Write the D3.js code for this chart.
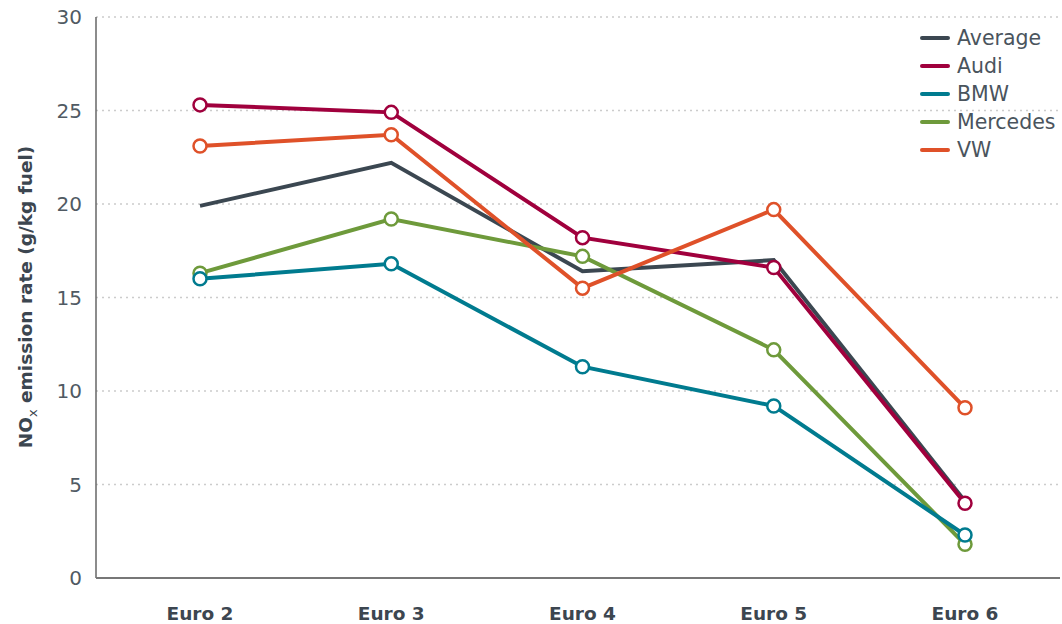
<!DOCTYPE html>
<html lang="en">
<head>
  <meta charset="UTF-8">
  <title>NOx emission rate</title>
  <script src="https://cdn.jsdelivr.net/npm/d3@7"></script>
  <style>
    body { margin: 0; background: #fff; }
    text { font-family: "DejaVu Sans", sans-serif; }
    .tick-y { fill: #505a63; font-size: 20px; }
    .tick-x { fill: #3c4650; font-size: 18.5px; font-weight: bold; }
    .legend text { fill: #4a545d; font-size: 20.5px; }
  </style>
</head>
<body>
  <div class="chart"></div>
  <script>
    // data
    const categories = ['Euro 2', 'Euro 3', 'Euro 4', 'Euro 5', 'Euro 6'];
    const average = [19.9, 22.2, 16.4, 17.0, 4.1];
    const audi = [25.3, 24.9, 18.2, 16.6, 4.0];
    const bmw = [16.0, 16.8, 11.3, 9.2, 2.3];
    const mercedes = [16.3, 19.2, 17.2, 12.2, 1.8];
    const vw = [23.1, 23.7, 15.5, 19.7, 9.1];
    const yTicks = [0, 5, 10, 15, 20, 25, 30];

    const series = [
      { name: 'Average', values: average, color: '#3b4751', markers: false },
      { name: 'Audi', values: audi, color: '#a0003d', markers: true },
      { name: 'Mercedes', values: mercedes, color: '#6e9a3b', markers: true },
      { name: 'BMW', values: bmw, color: '#007b8f', markers: true },
      { name: 'VW', values: vw, color: '#df5129', markers: true }
    ];
    const legendOrder = ['Average', 'Audi', 'BMW', 'Mercedes', 'VW'];

    const width = 1062, height = 624;
    const plotLeft = 96, plotRight = 1060, plotTop = 17, plotBottom = 578;

    const svg = d3.select('.chart')
      .append('svg')
      .attr('width', width)
      .attr('height', height);

    const x = d3.scalePoint()
      .domain(categories)
      .range([200, 965]);

    const y = d3.scaleLinear()
      .domain([0, 30])
      .range([plotBottom, plotTop]);

    // gridlines
    svg.selectAll('.grid')
      .data(yTicks.filter(d => d > 0))
      .enter()
      .append('line')
      .attr('x1', plotLeft)
      .attr('x2', plotRight)
      .attr('y1', d => y(d))
      .attr('y2', d => y(d))
      .attr('stroke', '#ccc')
      .attr('stroke-width', 1.3)
      .attr('stroke-dasharray', '2,4');

    // y tick labels
    svg.selectAll('.tick-y')
      .data(yTicks)
      .enter()
      .append('text')
      .attr('class', 'tick-y')
      .attr('x', 82)
      .attr('y', d => y(d) + 7)
      .attr('text-anchor', 'end')
      .text(d => d);

    // axes lines
    svg.append('line')
      .attr('x1', plotLeft).attr('x2', plotLeft)
      .attr('y1', plotTop).attr('y2', plotBottom)
      .attr('stroke', '#666').attr('stroke-width', 1.5);
    svg.append('line')
      .attr('x1', plotLeft).attr('x2', plotRight)
      .attr('y1', plotBottom).attr('y2', plotBottom)
      .attr('stroke', '#777').attr('stroke-width', 2);

    // x labels
    svg.selectAll('.tick-x')
      .data(categories)
      .enter()
      .append('text')
      .attr('class', 'tick-x')
      .attr('x', d => x(d))
      .attr('y', 620)
      .attr('text-anchor', 'middle')
      .text(d => d);

    // y axis title
    const title = svg.append('text')
      .attr('transform', 'translate(32, 297) rotate(-90)')
      .attr('text-anchor', 'middle')
      .attr('fill', '#3c4650')
      .attr('font-size', '18.5px')
      .attr('font-weight', 'bold');
    title.append('tspan').text('NO');
    title.append('tspan').attr('font-size', '13px').attr('font-weight', 'normal').attr('dy', 5).text('x');
    title.append('tspan').attr('dy', -5).text(' emission rate (g/kg fuel)');

    const line = d3.line()
      .x((d, i) => x(categories[i]))
      .y(d => y(d));

    series.forEach(s => {
      const g = svg.append('g');
      g.append('path')
        .datum(s.values)
        .attr('d', line)
        .attr('fill', 'none')
        .attr('stroke', s.color)
        .attr('stroke-width', 4)
        .attr('stroke-linejoin', 'miter');
      if (s.markers) {
        g.selectAll('circle')
          .data(s.values)
          .enter()
          .append('circle')
          .attr('cx', (d, i) => x(categories[i]))
          .attr('cy', d => y(d))
          .attr('r', 6.5)
          .attr('fill', '#fff')
          .attr('stroke', s.color)
          .attr('stroke-width', 2.5);
      }
    });

    // legend
    const legend = svg.append('g').attr('class', 'legend');
    legendOrder.forEach((name, i) => {
      const s = series.find(d => d.name === name);
      const ly = 38 + i * 28;
      legend.append('line')
        .attr('x1', 922).attr('x2', 948)
        .attr('y1', ly).attr('y2', ly)
        .attr('stroke', s.color)
        .attr('stroke-width', 4)
        .attr('stroke-linecap', 'round');
      legend.append('text')
        .attr('x', 957)
        .attr('y', ly + 7)
        .text(name);
    });
  </script>
</body>
</html>
